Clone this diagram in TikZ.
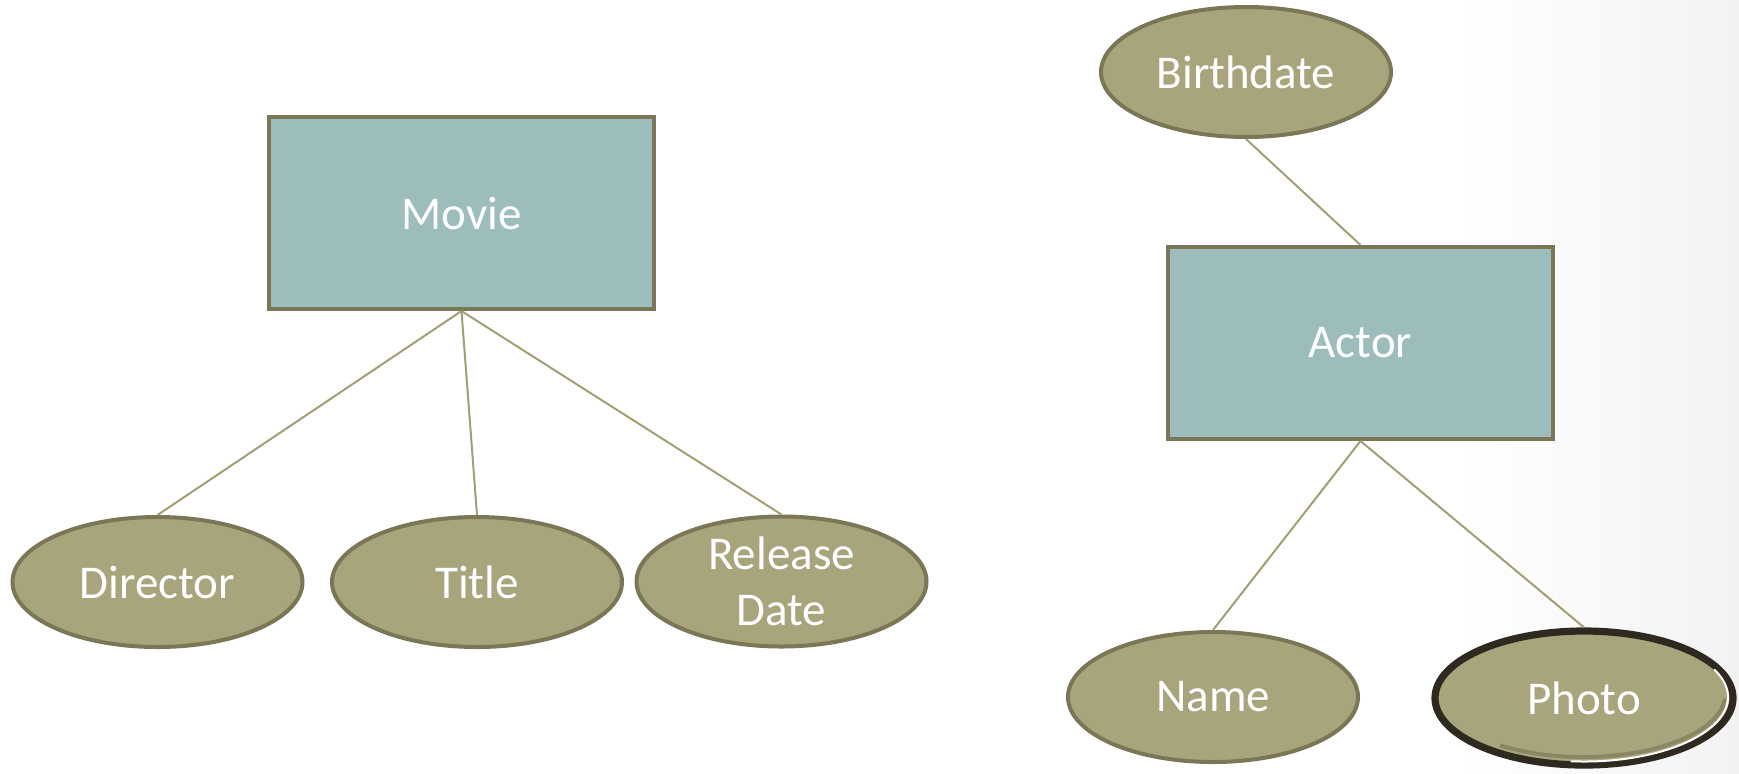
\documentclass[tikz,border=0pt]{standalone}
\usepackage{fontspec}
\setmainfont{Carlito}
\usetikzlibrary{shapes.geometric}
\definecolor{boxfill}{HTML}{9DBDBD}
\definecolor{edgeol}{HTML}{7A7656}
\definecolor{ellfill}{HTML}{A8A57C}
\definecolor{linkcol}{HTML}{A49E74}
\definecolor{darkedge}{HTML}{2E2A20}
\definecolor{shadowol}{HTML}{8A8663}
\tikzset{
  entity/.style={draw=edgeol, fill=boxfill, line width=2pt, minimum width=192.5pt, minimum height=96pt, inner sep=0pt,
    font=\fontsize{23.5}{28}\selectfont, text=white},
  attr/.style={ellipse, draw=edgeol, fill=ellfill, line width=2pt, minimum width=145pt, minimum height=65pt, inner sep=0pt,
    font=\fontsize{23.5}{28}\selectfont, text=white, align=center},
  multiattr/.style={ellipse, draw=darkedge, fill=ellfill, line width=3.6pt, minimum width=149pt, minimum height=67pt, inner sep=0pt,
    font=\fontsize{23.5}{28}\selectfont, text=white},
  link/.style={draw=linkcol, line width=1pt}
}
\begin{document}
\begin{tikzpicture}[x=0.5pt, y=-0.5pt]
\useasboundingbox (0,0) rectangle (1739,773);
\shade[left color=white, right color=black!5] (1460,0) rectangle (1739,773);
% entities
\node[entity] (movie) at (461.5,213) {Movie};
\node[entity] (actor) at (1360.5,343) {Actor};
% attributes
\node[attr] (birth) at (1246,72) {Birthdate};
\node[attr] (director) at (157.5,582) {Director};
\node[attr] (title) at (477,582) {Title};
\node[attr] (release) at (781.5,581.5) {Release\\Date};
\node[attr] (name) at (1213,697) {Name};
\node[multiattr] (photo) at (1584,698) {Photo};
\draw[shadowol, line width=2pt, line cap=round] (1583,695) ++(125:142 and 62) arc [start angle=125, end angle=5, x radius=142, y radius=62];
\draw[white, line width=1pt, line cap=round] (1584,697) ++(95:144 and 64.5) arc [start angle=95, end angle=-25, x radius=144, y radius=64.5];
% connectors
\draw[link] (movie.south) -- (director.north);
\draw[link] (movie.south) -- (title.north);
\draw[link] (movie.south) -- (release.north);
\draw[link] (birth.south) -- (actor.north);
\draw[link] (actor.south) -- (name.north);
\draw[link] (actor.south) -- (photo.north);
\end{tikzpicture}
\end{document}
